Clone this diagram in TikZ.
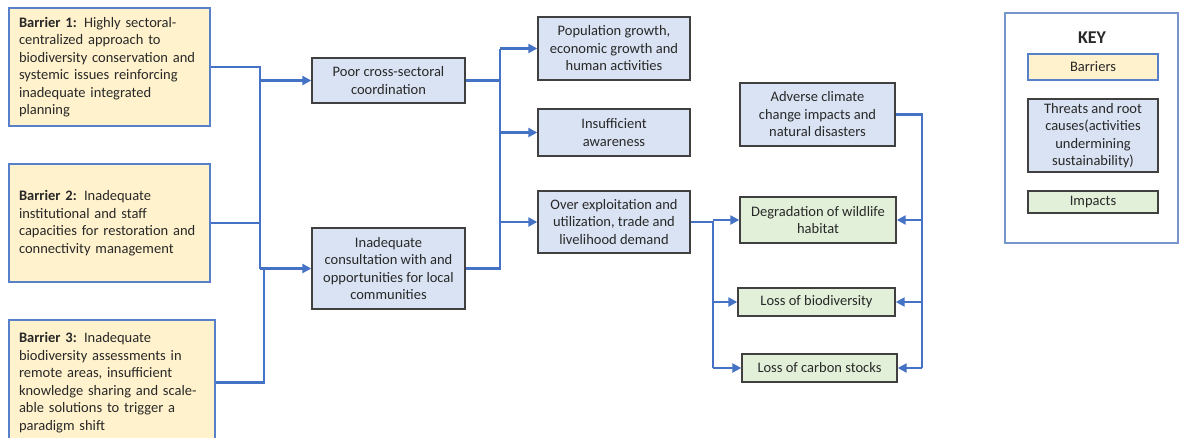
\documentclass[tikz,border=0pt]{standalone}
\usepackage{fontspec}
\setmainfont{Carlito}
\usepackage{xcolor}
\usetikzlibrary{arrows.meta,positioning}
\definecolor{barrierfill}{RGB}{255,242,204}
\definecolor{threatfill}{RGB}{218,227,243}
\definecolor{impactfill}{RGB}{226,240,217}
\definecolor{linkblue}{RGB}{68,114,196}
\definecolor{boxgray}{RGB}{64,64,64}
\definecolor{keyborder}{RGB}{120,150,205}
\definecolor{textgray}{RGB}{40,40,40}

\begin{document}
\begin{tikzpicture}[
  x=1pt, y=-1pt,
  every node/.style={font=\fontsize{14.5}{17.5}\selectfont, text=textgray},
  barrier/.style={
    draw=linkblue!90,
    fill=barrierfill,
    line width=1.1pt,
    text width=181pt,
    inner xsep=10pt,
    minimum height=118pt,
    align=left
  },
  threat/.style={
    draw=boxgray,
    fill=threatfill,
    line width=1.4pt,
    minimum width=153pt,
    inner sep=2pt,
    align=center
  },
  impact/.style={
    draw=boxgray,
    fill=impactfill,
    line width=1.4pt,
    minimum width=156pt,
    inner sep=2pt,
    align=center
  },
  keybox/.style={draw=keyborder, line width=1.1pt, minimum width=173pt, minimum height=230pt},
  link/.style={draw=linkblue, line width=2.3pt},
  arrow/.style={link, -{Triangle[length=9pt,width=9pt]}}
]
\useasboundingbox (0,0) rectangle (1180,437);

% Barriers
\node[barrier] (b1) at (109.5,67) {\textbf{Barrier 1:} Highly sectoral-\\centralized approach to\\biodiversity conservation and\\systemic issues reinforcing\\inadequate integrated\\planning};
\node[barrier] (b2) at (109.5,223) {\textbf{Barrier 2:} Inadequate\\institutional and staff\\capacities for restoration and\\connectivity management};
\node[barrier, text width=186pt, minimum height=125pt] (b3) at (112,382.5) {\textbf{Barrier 3:} Inadequate\\biodiversity assessments in\\remote areas, insufficient\\knowledge sharing and scale-\\able solutions to trigger a\\paradigm shift};

% Threats and root causes
\node[threat, minimum height=45pt] (poor) at (388.5,80.5) {Poor cross-sectoral\\coordination};
\node[threat, minimum height=81pt] (cons) at (388.5,268.5) {Inadequate\\consultation with and\\opportunities for local\\communities};
\node[threat, minimum width=152pt, minimum height=63pt] (pop) at (614,48.5) {Population growth,\\economic growth and\\human activities};
\node[threat, minimum width=152pt, minimum height=47pt] (ins) at (614,132.5) {Insufficient\\awareness};
\node[threat, minimum width=152pt, minimum height=62pt] (over) at (614,222) {Over exploitation and\\utilization, trade and\\livelihood demand};
\node[threat, minimum width=155pt, minimum height=63pt] (adv) at (817.5,114.5) {Adverse climate\\change impacts and\\natural disasters};

% Impacts
\node[impact, minimum height=46pt] (deg) at (818,220) {Degradation of wildlife\\habitat};
\node[impact, minimum width=157pt, minimum height=28pt] (bio) at (816.5,302) {Loss of biodiversity};
\node[impact, minimum width=155pt, minimum height=28pt] (carb) at (819.5,368) {Loss of carbon stocks};

% Key
\node[keybox] (key) at (1091.5,128) {};
\node[font=\fontsize{18}{20}\selectfont\bfseries] (keytitle) at (1092,38) {KEY};
\node[barrier, text width=, inner xsep=2pt, minimum width=130pt, minimum height=26pt, align=center] (kbar) at (1093,67) {Barriers};
\node[threat, minimum width=130pt, minimum height=73pt] (kthr) at (1093,135.5) {Threats and root\\causes(activities\\undermining\\sustainability)};
\node[impact, minimum width=130pt, minimum height=22pt] (kimp) at (1093,202) {Impacts};

% Junctions
\coordinate (jA) at (260,268.5);
\coordinate (jB) at (264,268.5);
\coordinate (jC) at (500,48.5);
\coordinate (jD) at (713,368);
\coordinate (jE) at (922,368);

% Barriers to threats
\draw[link] (b1.east) -| (jA);
\draw[link] (b2.east) -- (b2.east -| jA);
\draw[link] (b3.east) -| (jB);
\draw[arrow] (jA |- poor.west) -- (poor.west);
\draw[arrow] (jA) -- (cons.west);

% Threats to root causes
\draw[link] (cons.east) -| (jC);
\draw[link] (poor.east) -- (poor.east -| jC);
\draw[arrow] (jC) -- (pop.west);
\draw[arrow] (jC |- ins.west) -- (ins.west);
\draw[arrow] (jC |- over.west) -- (over.west);

% Root causes to impacts
\draw[link] (over.east) -| (jD);
\draw[arrow] (jD |- deg.west) -- (deg.west);
\draw[arrow] (jD |- bio.west) -- (bio.west);
\draw[arrow] (jD) -- (carb.west);

\draw[link] (adv.east) -| (jE);
\draw[arrow] (jE |- deg.east) -- (deg.east);
\draw[arrow] (jE |- bio.east) -- (bio.east);
\draw[arrow] (jE) -- (carb.east);

\end{tikzpicture}
\end{document}
